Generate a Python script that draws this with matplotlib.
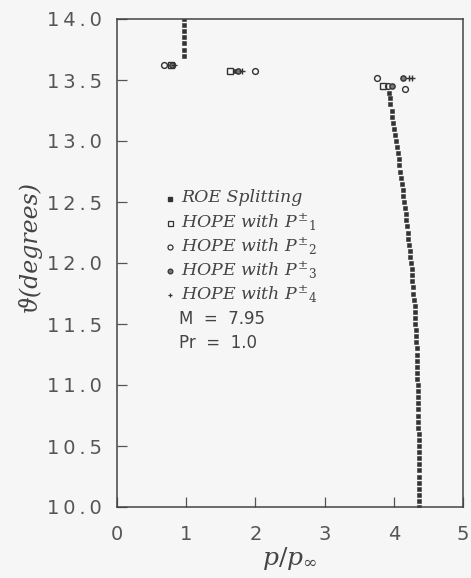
import matplotlib
matplotlib.use("Agg")
import matplotlib.pyplot as plt
from matplotlib.lines import Line2D

# ROE splitting main column (theta values and pressure ratio)
roe_theta = [10.00, 10.05, 10.10, 10.15, 10.20, 10.25, 10.30, 10.35, 10.40, 10.45,
             10.50, 10.55, 10.60, 10.65, 10.70, 10.75, 10.80, 10.85, 10.90, 10.95,
             11.00, 11.05, 11.10, 11.15, 11.20, 11.25, 11.30, 11.35, 11.40, 11.45,
             11.50, 11.55, 11.60, 11.65, 11.70, 11.75, 11.80, 11.85, 11.90, 11.95,
             12.00, 12.05, 12.10, 12.15, 12.20, 12.25, 12.30, 12.35, 12.40, 12.45,
             12.50, 12.55, 12.60, 12.65, 12.70, 12.75, 12.80, 12.85, 12.90, 12.95,
             13.00, 13.05, 13.10, 13.15, 13.20, 13.25, 13.30, 13.35, 13.39,
             13.70, 13.75, 13.80, 13.85, 13.90, 13.95, 14.00, 13.62, 13.57]
roe_p = [4.37, 4.37, 4.37, 4.37, 4.37, 4.36, 4.36, 4.36, 4.36, 4.36,
         4.36, 4.36, 4.36, 4.35, 4.35, 4.35, 4.35, 4.35, 4.35, 4.35,
         4.35, 4.34, 4.34, 4.34, 4.33, 4.33, 4.33, 4.32, 4.32, 4.32,
         4.31, 4.31, 4.30, 4.30, 4.29, 4.28, 4.28, 4.27, 4.26, 4.26,
         4.25, 4.24, 4.23, 4.22, 4.21, 4.20, 4.19, 4.18, 4.17, 4.16,
         4.15, 4.14, 4.13, 4.12, 4.10, 4.09, 4.08, 4.07, 4.06, 4.04,
         4.03, 4.02, 4.01, 3.99, 3.98, 3.97, 3.95, 3.94, 3.93,
         0.97, 0.97, 0.97, 0.97, 0.97, 0.97, 0.97, 0.81, 1.71]

hope1_p = [0.78, 1.64, 3.85]
hope1_theta = [13.62, 13.57, 13.45]
hope2_p = [0.68, 2.00, 3.76, 4.16, 3.92]
hope2_theta = [13.62, 13.57, 13.52, 13.43, 13.45]
hope3_p = [0.80, 1.75, 3.97, 4.13]
hope3_theta = [13.62, 13.57, 13.45, 13.52]
hope4_p = [0.82, 1.80, 4.22, 4.27]
hope4_theta = [13.62, 13.57, 13.52, 13.52]

xticks = [0, 1, 2, 3, 4, 5]
yticks = [10.0, 10.5, 11.0, 11.5, 12.0, 12.5, 13.0, 13.5, 14.0]

bg = "#f6f6f6"
ink = "#333333"
txt = "#444444"
plt.rcParams["mathtext.fontset"] = "dejavuserif"

W, H = 471, 578
fig = plt.figure(figsize=(W / 100, H / 100), dpi=100, facecolor=bg)
ax = fig.add_axes([117 / W, 1 - 507 / H, 346 / W, 488 / H], facecolor=bg)

ax.plot(roe_p, roe_theta, ls="none", marker="s", ms=3.4, mfc=ink, mec=ink, mew=0.4)
ax.plot(hope1_p, hope1_theta, ls="none", marker="s", ms=4.2, mfc="none", mec=ink, mew=1.0)
ax.plot(hope2_p, hope2_theta, ls="none", marker="o", ms=4.2, mfc="none", mec=ink, mew=1.0)
ax.plot(hope3_p, hope3_theta, ls="none", marker="o", ms=3.8, mfc="#777777", mec=ink, mew=1.0)
ax.plot(hope4_p, hope4_theta, ls="none", marker="+", ms=5, mec=ink, mew=1.0)

def spaced(s):
    return "\u2009".join(s)

ax.set_xlim(0, 5)
ax.set_ylim(10.0, 14.0)
ax.set_xticks(xticks)
ax.set_xticklabels([spaced(str(v)) for v in xticks])
ax.set_yticks(yticks)
ax.set_yticklabels([spaced(f"{v:.1f}") for v in yticks])
ax.tick_params(direction="in", length=7, width=0.9, color="#555555",
               labelsize=14, labelcolor="#555555")
ax.tick_params(axis="y", pad=11)
ax.tick_params(axis="x", pad=13)
for s in ax.spines.values():
    s.set_color("#444444")
    s.set_linewidth(1.1)

ax.set_ylabel("ϑ(degrees)", family="DejaVu Serif", style="italic", fontsize=17,
              color=txt)
ax.yaxis.set_label_coords((30 - 117) / 346, (507 - 246) / 488)
ax.set_xlabel(r"$p/p_{\infty}$", fontsize=18, color=txt)
ax.xaxis.set_label_coords(0.5, (507 - 559) / 488)
ax.xaxis.label.set_va("center")
ax.yaxis.label.set_va("center")

# legend drawn manually (figure pixel positions)
def fx(px):
    return px / W

def fy(py):
    return 1 - py / H

leg_styles = [
    dict(marker="s", ms=2.2, mfc=ink, mec=ink),
    dict(marker="s", ms=3.6, mfc="none", mec=ink, mew=0.9),
    dict(marker="o", ms=3.6, mfc="none", mec=ink, mew=0.9),
    dict(marker="o", ms=3.4, mfc="#777777", mec=ink, mew=0.9),
    dict(marker="+", ms=3.5, mec=ink, mew=0.9),
]
labels = ["ROE Splitting",
          r"HOPE with $P^{\pm}{}_{1}$",
          r"HOPE with $P^{\pm}{}_{2}$",
          r"HOPE with $P^{\pm}{}_{3}$",
          r"HOPE with $P^{\pm}{}_{4}$"]
rows = [198, 222, 246, 270, 294]
for st, lab, r in zip(leg_styles, labels, rows):
    fig.add_artist(Line2D([fx(170)], [fy(r + 1)], ls="none", transform=fig.transFigure, **st))
    fig.text(fx(181), fy(r), lab, family="DejaVu Serif", style="italic", fontsize=12.5,
             color=txt, va="center", ha="left")

fig.text(fx(179), fy(319), "M  =  7.95", fontsize=12, color=txt, va="center")
fig.text(fx(179), fy(343), "Pr  =  1.0", fontsize=12, color=txt, va="center")

fig.savefig("out.png", dpi=100, facecolor=bg)
